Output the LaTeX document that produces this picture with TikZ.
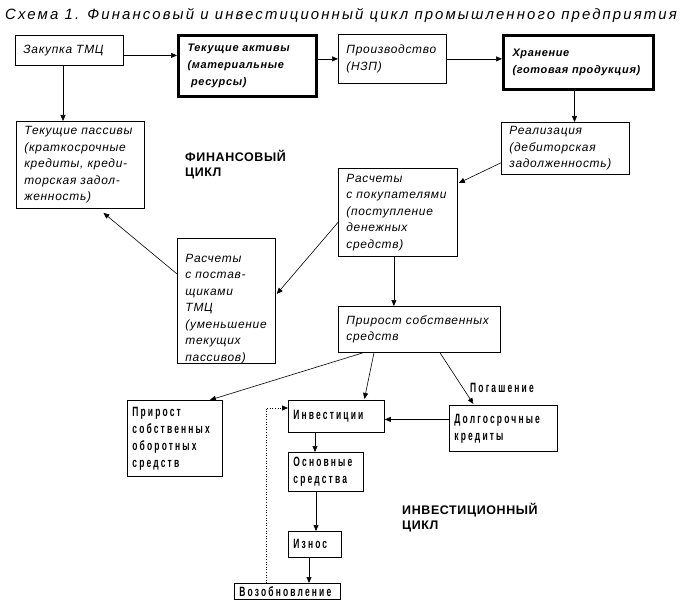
\documentclass[tikz,border=0pt]{standalone}
\usepackage{fontspec}
\setmainfont{Liberation Sans}[LetterSpace=6]
\newfontfamily\condfont[FakeStretch=0.63,LetterSpace=16]{Liberation Sans}
\newfontfamily\capfont[LetterSpace=5]{Liberation Sans}
\newfontfamily\titlefont[LetterSpace=14]{Liberation Sans}
\usetikzlibrary{arrows.meta,positioning,calc}

\begin{document}
\begin{tikzpicture}[
  x=1bp, y=-1bp,
  every node/.style={font=\fontsize{12}{16.5}\selectfont\itshape},
  arr/.style={-{Triangle[length=6bp,width=5bp]}, line width=0.6bp},
  box/.style={draw, line width=0.8bp, anchor=north west, align=left, inner xsep=8bp, inner ysep=0pt},
  thickbox/.style={box, line width=3bp, inner xsep=9bp, font=\fontsize{11}{17}\selectfont\bfseries\itshape},
  lowbox/.style={box, inner xsep=5bp, font=\fontsize{13.5}{17}\selectfont\condfont\bfseries},
  lowlbl/.style={inner sep=0pt, font=\fontsize{13.5}{17}\selectfont\condfont\bfseries},
  cyclbl/.style={anchor=north west, align=left, inner sep=0pt, font=\fontsize{12.5}{15}\selectfont\capfont\bfseries}
]
  \useasboundingbox (0,0) rectangle (683,606);
  \node[anchor=base west, inner sep=0pt, font=\fontsize{15}{17}\selectfont\titlefont\itshape] (title) at (5,20)
    {Схема 1. Финансовый и инвестиционный цикл промышленного предприятия};

  \node[box, text width=92bp, minimum height=30bp] (zakupka) at (15,35) {Закупка ТМЦ};
  \node[thickbox, text width=120bp, minimum height=61bp] (tekakt) at (177,34)
    {Текущие активы\\(материальные\\\ ресурсы)};
  \node[box, text width=92bp, minimum height=49bp] (proizv) at (338,34) {Производство\\(НЗП)};
  \node[thickbox, text width=132bp, minimum height=54bp] (hranenie) at (502,34)
    {Хранение\\(готовая продукция)};
  \node[box, text width=112bp, minimum height=87bp] (tekpas) at (16,121)
    {Текущие пассивы\\(краткосрочные\\кредиты, креди-\\торская задол-\\женность)};
  \node[box, text width=112bp, minimum height=52bp] (realiz) at (501,122)
    {Реализация\\(дебиторская\\задолженность)};
  \node[box, text width=103bp, minimum height=88bp] (pokup) at (338,168)
    {Расчеты\\с покупателями\\(поступление\\денежных\\средств)};
  \node[box, text width=82bp, minimum height=125bp] (postav) at (177,238)
    {\rule{0pt}{24bp}Расчеты\\с постав-\\щиками\\ТМЦ\\(уменьшение\\текущих\\пассивов)};
  \node[box, text width=146bp, minimum height=46bp] (prirost) at (338,306)
    {Прирост собственных\\средств};
  \node[cyclbl] (finlbl) at (185,150) {ФИНАНСОВЫЙ\\ЦИКЛ};

  \node[lowbox, text width=85bp, minimum height=76bp] (oborot) at (127,400)
    {Прирост\\собственных\\оборотных\\средств};
  \node[lowbox, text width=86bp, minimum height=32bp] (invest) at (288,400) {Инвестиции};
  \node[lowbox, text width=98bp, minimum height=46bp] (dolg) at (449,405) {Долгосрочные\\кредиты};
  \node[lowbox, text width=65bp, minimum height=39bp] (osnov) at (288,452) {Основные\\средства};
  \node[lowbox, text width=43bp, minimum height=26bp] (iznos) at (288,531) {Износ};
  \node[lowbox, text width=96bp, minimum height=16bp] (vozob) at (234,583) {Возобновление};
  \node[lowlbl, anchor=south west] (pogash) at ($(dolg.north west)+(21,-12)$) {Погашение};
  \node[cyclbl] (invlbl) at (402,503) {ИНВЕСТИЦИОННЫЙ\\ЦИКЛ};

  \coordinate (zakR) at ($(zakupka.east)+(0,5)$);
  \coordinate (zakB) at ($(zakupka.south west)+(48,0)$);
  \coordinate (hraB) at ($(hranenie.south)+(-4,0)$);
  \coordinate (pokB) at ($(pokup.south)+(-4,0)$);
  \coordinate (dolL) at ($(dolg.west)+(0,-9)$);
  \coordinate (invB) at ($(invest.south west)+(27,0)$);
  \coordinate (osnB) at ($(osnov.south west)+(28,0)$);
  \coordinate (iznB) at ($(iznos.south west)+(21,0)$);

  \draw[arr] (zakR) -- (zakR -| tekakt.west);
  \draw[arr] (proizv.west -| tekakt.east) -- (proizv.west);
  \draw[arr] (proizv.east) -- (proizv.east -| hranenie.west);
  \draw[arr] (zakB) -- (zakB |- tekpas.north);
  \draw[arr] (hraB) -- (hraB |- realiz.north);
  \draw[arr] ($(realiz.south west)+(0,-12)$) -- ($(pokup.north east)+(1,15)$);
  \draw[arr] ($(pokup.west)+(0,10)$) -- ($(postav.east)+(1,-7)$);
  \draw[arr] ($(postav.west)+(0,-27)$) -- ($(tekpas.south)+(23,4)$);
  \draw[arr] (pokB) -- (pokB |- prirost.north);
  \draw[arr] ($(prirost.south west)+(25,0)$) -- ($(oborot.north)+(35,0)$);
  \draw[arr] ($(prirost.south west)+(36,0)$) -- ($(invest.north)+(28,-1)$);
  \draw[arr] ($(prirost.south west)+(102,0)$) -- ($(dolg.north)+(-30,-1)$);
  \draw[arr] (dolL) -- (dolL -| invest.east);
  \draw[arr] (invB) -- (invB |- osnov.north);
  \draw[arr] (osnB) -- (osnB |- iznos.north);
  \draw[arr] (iznB) -- (iznB |- vozob.north);
  \draw[arr, dotted, line width=0.8bp] ($(vozob.north west)+(32,0)$) |- ($(invest.north west)+(0,8)$);
\end{tikzpicture}
\end{document}
